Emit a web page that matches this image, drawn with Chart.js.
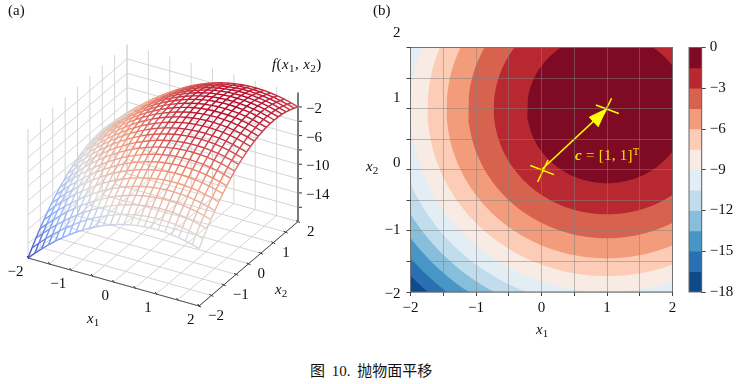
<!DOCTYPE html>
<html lang="zh">
<head>
<meta charset="utf-8">
<title>图 10</title>
<script src="https://cdn.jsdelivr.net/npm/chart.js@4"></script>
<style>
  html, body { margin: 0; padding: 0; background: #fff; }
  #stage { position: relative; width: 738px; height: 384px; overflow: hidden; font-family: "Liberation Serif", serif; color: #111; }
  .box { position: absolute; }
  .txt { position: absolute; font-size: 15px; line-height: 18px; white-space: nowrap; }
  .txt i { font-style: italic; }
  .txt sub { font-size: 11px; line-height: 0; vertical-align: -3px; }
  .txt sup { font-size: 10.5px; line-height: 0; vertical-align: 5px; }
</style>
</head>
<body>
<div id="stage">
  <div class="box" style="left:0;top:0;width:360px;height:340px"><canvas id="surface"></canvas></div>
  <div class="box" style="left:360px;top:0;width:325px;height:345px"><canvas id="contour"></canvas></div>
  <div class="box" style="left:680px;top:0;width:58px;height:345px"><canvas id="colorbar"></canvas></div>

  <div class="txt" style="left:8px;top:1px">(a)</div>
  <div class="txt" style="left:373px;top:1px">(b)</div>
  <div class="txt" style="left:272px;top:55px;letter-spacing:0.4px"><i>f</i>(<i>x</i><sub>1</sub>, <i>x</i><sub>2</sub>)</div>
  <div class="txt" style="left:87px;top:309px"><i>x</i><sub>1</sub></div>
  <div class="txt" style="left:275px;top:280px"><i>x</i><sub>2</sub></div>
  <div class="txt" style="left:536px;top:320px"><i>x</i><sub>1</sub></div>
  <div class="txt" style="left:366px;top:157px"><i>x</i><sub>2</sub></div>
  <div class="txt" style="left:575px;top:146px;color:#ffe000;letter-spacing:0.25px"><b><i>c</i></b> = [1, 1]<sup>T</sup></div>
  <div class="txt" style="left:310px;top:362px;font-size:15px;word-spacing:3px;font-family:'Liberation Serif','Noto Sans CJK SC',serif">图 10. 抛物面平移</div>
</div>

<script>
// ---- data ----
const gridX = [-2, -1.84, -1.68, -1.52, -1.36, -1.2, -1.04, -0.88, -0.72, -0.56, -0.4, -0.24, -0.08,
    0.08, 0.24, 0.4, 0.56, 0.72, 0.88, 1.04, 1.2, 1.36, 1.52, 1.68, 1.84, 2];
// height lost along each grid line, the surface height is the sum of both directions
const gridDrop = [-9, -8.07, -7.18, -6.35, -5.57, -4.84, -4.16, -3.53, -2.96, -2.43, -1.96, -1.54, -1.17,
    -0.85, -0.58, -0.36, -0.19, -0.08, -0.01, 0, -0.04, -0.13, -0.27, -0.46, -0.71, -1];

const planeTicks = [-2, -1.5, -1, -0.5, 0, 0.5, 1, 1.5, 2];
const planeLabels = [-2, -1, 0, 1, 2];
const zTicks = [-2, -4, -6, -8, -10, -12, -14, -16];
const zLabels = [-2, -6, -10, -14];

const bandEdges = [0, -1.5, -3, -4.5, -6, -7.5, -9, -10.5, -12, -13.5, -15, -16.5, -18];
const bandColors = ['#7f0a24', '#b72830', '#d7634f', '#f29c7b', '#fcccb6', '#f8ebe4',
    '#e3eef4', '#c1dcec', '#87bedc', '#4896c5', '#2870b1', '#0f4a8a'];
// contour radius around the peak for each band, innermost band first
const contourPeak = [1, 1];
const contourRadii = [1.22, 1.73, 2.12, 2.45, 2.74, 3, 3.24, 3.46, 3.67, 3.87, 4.06, 4.4];

const coolwarm = ['#3b4cc0', '#8db0fe', '#dddcdc', '#f49a7b', '#b40426'];

const cArrow = [{ x: 0, y: 0 }, { x: 1, y: 1 }];
const cHead = [{ x: 1, y: 1 }, { x: 0.73, y: 0.86 }, { x: 0.87, y: 0.7 }];
const cMarks = [
    [{ x: 0.83, y: 1.06 }, { x: 1.18, y: 0.92 }],
    [{ x: 1.07, y: 1.17 }, { x: 0.95, y: 0.91 }],
    [{ x: -0.17, y: 0.07 }, { x: 0.19, y: -0.08 }],
    [{ x: 0.1, y: 0.16 }, { x: -0.06, y: -0.2 }]
];
const contourTickText = [2, 1, 0, -1, -2];
const contourTickShift = [-14.7, -10.7, -6.6, -1, 2];

const FONT = '15px "Liberation Serif", serif';
const minus = v => String(v).replace('-', '\u2212');

// ---- orthographic view of panel (a) ----
function project(x, y, z) {
    return {
        x: 28 + 42.75 * (x + 2) + 24.75 * (y + 2),
        y: 258 + 12 * (x + 2) - 21.1 * (y + 2) - 7.167 * (z + 18)
    };
}

function hexRgb(h) {
    return [1, 3, 5].map(i => parseInt(h.substr(i, 2), 16));
}

function zColor(z) {
    const t = Math.max(0, Math.min(1, (z + 18) / 18)) * (coolwarm.length - 1);
    const i = Math.min(coolwarm.length - 2, Math.floor(t));
    const a = hexRgb(coolwarm[i]), b = hexRgb(coolwarm[i + 1]);
    const c = a.map((v, k) => Math.round(v + (b[k] - v) * (t - i)));
    return `rgb(${c[0]},${c[1]},${c[2]})`;
}

function plainLine(points, color, width) {
    return { data: points, borderColor: color, borderWidth: width, pointRadius: 0, showLine: true, fill: false };
}

function surfaceDatasets() {
    const sets = [];
    const wall = '#d4d4d4';

    // axes on top of everything (chart.js paints the first dataset last)
    sets.push(plainLine([project(-2, -2, -18), project(2, -2, -18)], '#555', 1));
    sets.push(plainLine([project(2, -2, -18), project(2, 2, -18)], '#444', 1));
    sets.push(plainLine([project(2, 2, -18), project(2, 2, 0)], '#7a7a7a', 2));
    planeTicks.forEach(t => {
        const p = project(t, -2, -18), q = project(2, t, -18);
        sets.push(plainLine([{ x: p.x - 1, y: p.y - 2 }, { x: p.x + 1, y: p.y + 1 }], '#333', 1));
        sets.push(plainLine([{ x: q.x - 2, y: q.y - 1 }, { x: q.x + 2, y: q.y + 1 }], '#333', 1));
    });
    zTicks.forEach(z => {
        const p = project(2, 2, z);
        sets.push(plainLine([p, { x: p.x + 4, y: p.y }], '#333', 1));
    });

    // wireframe, one polyline per grid line with a colour per segment
    const addWire = (pts) => {
        sets.push({
            data: pts.map(p => project(p[0], p[1], p[2])),
            zValues: pts.map(p => p[2]),
            borderWidth: 1.4,
            pointRadius: 0,
            showLine: true,
            fill: false,
            segment: {
                borderColor: ctx => {
                    const v = ctx.chart.data.datasets[ctx.datasetIndex].zValues;
                    return zColor((v[ctx.p0DataIndex] + v[ctx.p1DataIndex]) / 2);
                }
            }
        });
    };
    gridX.forEach((a, i) => {
        addWire(gridX.map((b, j) => [a, b, gridDrop[i] + gridDrop[j]]));
        addWire(gridX.map((b, j) => [b, a, gridDrop[j] + gridDrop[i]]));
    });

    // walls and floor
    planeTicks.forEach(t => {
        sets.push(plainLine([project(t, -2, -18), project(t, 2, -18)], wall, 1));
        sets.push(plainLine([project(-2, t, -18), project(2, t, -18)], wall, 1));
        sets.push(plainLine([project(t, 2, -18), project(t, 2, 0)], wall, 1));
        sets.push(plainLine([project(-2, t, -18), project(-2, t, 0)], wall, 1));
    });
    zTicks.forEach(z => {
        sets.push(plainLine([project(-2, -2, z), project(-2, 2, z)], wall, 1));
        sets.push(plainLine([project(-2, 2, z), project(2, 2, z)], wall, 1));
    });
    return sets;
}

const surfaceText = {
    id: 'surfaceText',
    afterDatasetsDraw(chart) {
        const { ctx, scales } = chart;
        const put = (label, p, dx, dy, align) => {
            ctx.textAlign = align;
            ctx.fillText(minus(label), scales.x.getPixelForValue(p.x) + dx, scales.y.getPixelForValue(p.y) + dy);
        };
        ctx.save();
        ctx.font = FONT;
        ctx.fillStyle = '#111';
        ctx.textBaseline = 'middle';
        planeLabels.forEach(t => {
            put(t, project(t, -2, -18), -4.5, 14.5, 'right');
            put(t, project(2, t, -18), 9, 10, 'left');
        });
        zLabels.forEach(z => put(z, project(2, 2, z), 8, 2, 'left'));
        ctx.restore();
    }
};

new Chart(document.getElementById('surface'), {
    type: 'scatter',
    data: { datasets: surfaceDatasets() },
    options: {
        responsive: true,
        maintainAspectRatio: false,
        animation: false,
        layout: { padding: 0 },
        plugins: { legend: { display: false }, tooltip: { enabled: false } },
        scales: {
            x: { type: 'linear', display: false, min: 0, max: 360 },
            y: { type: 'linear', display: false, min: 0, max: 340, reverse: true }
        }
    },
    plugins: [surfaceText]
});

// ---- panel (b) ----
function ring(r) {
    const pts = [];
    for (let a = 0; a < 360; a += 2) {
        pts.push({
            x: contourPeak[0] + r * Math.cos(a * Math.PI / 180),
            y: contourPeak[1] + r * Math.sin(a * Math.PI / 180)
        });
    }
    return pts;
}

const yellow = '#ffff00';
const contourSets = [];
cMarks.forEach(m => contourSets.push(plainLine(m, yellow, 1.5)));
contourSets.push({ data: cHead, borderColor: yellow, backgroundColor: yellow, borderWidth: 1, pointRadius: 0, showLine: true, fill: 'shape' });
contourSets.push(plainLine(cArrow, yellow, 1.5));
contourRadii.forEach((r, i) => contourSets.push({
    data: ring(r),
    borderColor: bandColors[i],
    backgroundColor: bandColors[i],
    borderWidth: 0,
    pointRadius: 0,
    showLine: true,
    fill: 'shape'
}));

const frame = {
    id: 'frame',
    afterDatasetsDraw(chart) {
        const { ctx, chartArea: a } = chart;
        ctx.save();
        ctx.strokeStyle = '#666';
        ctx.lineWidth = 1;
        ctx.strokeRect(a.left, a.top, a.right - a.left, a.bottom - a.top);
        ctx.restore();
    }
};

const contourYText = {
    id: 'contourYText',
    afterDatasetsDraw(chart) {
        const { ctx, scales, chartArea } = chart;
        ctx.save();
        ctx.font = FONT;
        ctx.fillStyle = '#111';
        ctx.textAlign = 'right';
        ctx.textBaseline = 'middle';
        contourTickText.forEach((v, i) => {
            ctx.fillText(minus(v), chartArea.left - 10, scales.y.getPixelForValue(v) + contourTickShift[i]);
        });
        ctx.restore();
    }
};

new Chart(document.getElementById('contour'), {
    type: 'scatter',
    data: { datasets: contourSets },
    options: {
        responsive: true,
        maintainAspectRatio: false,
        animation: false,
        layout: { padding: { top: 47.5, right: 12.5, bottom: 0, left: 0 } },
        plugins: { legend: { display: false }, tooltip: { enabled: false }, filler: { propagate: false } },
        scales: {
            x: {
                type: 'linear', min: -2, max: 2,
                afterBuildTicks: s => { s.ticks = planeTicks.map(v => ({ value: v })); },
                afterFit: s => { s.height = 53; },
                border: { display: false },
                grid: { z: 1, color: 'rgba(128,128,128,0.5)', tickColor: '#444', tickLength: 4 },
                ticks: {
                    padding: 3, maxRotation: 0, autoSkip: false, color: '#111',
                    font: { family: '"Liberation Serif", serif', size: 15 },
                    callback: v => (planeLabels.includes(v) ? minus(v) : '')
                }
            },
            y: {
                type: 'linear', min: -2, max: 2,
                afterBuildTicks: s => { s.ticks = planeTicks.map(v => ({ value: v })); },
                afterFit: s => { s.width = 50.5; },
                border: { display: false },
                grid: { z: 1, color: 'rgba(128,128,128,0.5)', tickColor: '#444', tickLength: 4 },
                ticks: { display: true, autoSkip: false, callback: () => '' }
            }
        }
    },
    plugins: [frame, contourYText]
});

// ---- colour bar ----
new Chart(document.getElementById('colorbar'), {
    type: 'bar',
    data: {
        labels: [''],
        datasets: bandColors.map((c, i) => ({
            data: [bandEdges[i + 1] - bandEdges[i]],
            backgroundColor: c,
            borderWidth: 0,
            barPercentage: 1,
            categoryPercentage: 1,
            stack: 'bar'
        }))
    },
    options: {
        responsive: true,
        maintainAspectRatio: false,
        animation: false,
        layout: { padding: { top: 47.5, left: 9, right: 0, bottom: 53 } },
        plugins: { legend: { display: false }, tooltip: { enabled: false } },
        scales: {
            x: { display: false, stacked: true },
            y: {
                position: 'right', stacked: true, min: -18, max: 0,
                afterFit: s => { s.width = 36.3; },
                border: { color: '#666' },
                grid: { drawOnChartArea: false, tickColor: '#444', tickLength: 4 },
                ticks: {
                    stepSize: 3, padding: 4, color: '#111',
                    font: { family: '"Liberation Serif", serif', size: 15 },
                    callback: v => minus(v)
                }
            }
        }
    },
    plugins: [frame]
});
</script>
</body>
</html>
